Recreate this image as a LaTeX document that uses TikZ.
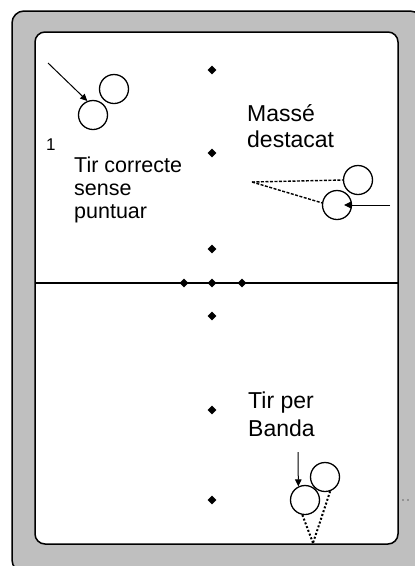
\documentclass[tikz,border=0pt]{standalone}
\usepackage{fontspec}
\setmainfont{Liberation Sans}
\usetikzlibrary{arrows.meta,shapes.geometric}
\begin{document}
\begin{tikzpicture}[x=1pt,y=-1pt,
  frameout/.style={fill=gray!100!black!50,draw=black,line width=1.5pt,rounded corners=12pt},
  framein/.style={fill=white,draw=black,line width=1.5pt,rounded corners=10pt},
  ball/.style={circle,draw=black,line width=1.3pt,minimum size=29pt,inner sep=0pt},
  spot/.style={diamond,fill=black,inner sep=0pt,minimum size=9pt},
  shot/.style={line width=1pt,-{Triangle[length=7pt,width=6.5pt]}},
  trackdash/.style={line width=1.4pt,dash pattern=on 3pt off 1.5pt},
  trackdot/.style={line width=2pt,dash pattern=on 2pt off 2pt},
  lbl/.style={anchor=base west,inner sep=0pt,align=left},
  speck/.style={circle,fill=black!60,inner sep=0pt,minimum size=1.8pt}]
\useasboundingbox (0,0) rectangle (415,566);
% frame
\draw[frameout] (12,11) rectangle (422,572);
\draw[framein] (35,32) rectangle (398,544);
% centre line
\coordinate (cl) at (35,283);
\coordinate (cr) at (398,283);
\draw[line width=1.5pt] (cl) -- (cr);
% spots
\node[spot] (s1) at (212,70) {};
\node[spot] (s2) at (212,153) {};
\node[spot] (s3) at (212,249) {};
\node[spot] (s4) at (184,283) {};
\node[spot] (s5) at (212,283) {};
\node[spot] (s6) at (242,283) {};
\node[spot] (s7) at (212,316) {};
\node[spot] (s8) at (212,410) {};
\node[spot] (s9) at (212,500) {};
% shot 1
\node[ball] (b1a) at (114,89) {};
\node[ball] (b1b) at (93,115) {};
\coordinate (a1) at (48,63);
\draw[shot] (a1) -- (b1b.112);
\node[lbl,font=\fontsize{17}{18}\selectfont] (n1) at (46,150) {1};
\node[lbl,font=\fontsize{21.5}{23}\selectfont] (t1) at (74,218) {Tir correcte\\sense\\puntuar};
% masse
\node[ball] (b2a) at (358,180) {};
\node[ball] (b2b) at (337,205) {};
\coordinate (m0) at (252,182);
\coordinate (m1) at (390,205);
\coordinate (m2) at (344,205);
\draw[trackdash] (m0) -- (b2a.west);
\draw[trackdash] (m0) -- (b2b.172);
\draw[shot] (m1) -- (m2);
\node[lbl,font=\fontsize{23}{26}\selectfont] (t2) at (247,147) {Massé\\destacat};
% banda
\node[ball] (b3a) at (325,477) {};
\node[ball] (b3b) at (305,500) {};
\coordinate (c3) at (313,543);
\coordinate (a3) at (298,452);
\draw[shot] (a3) -- (b3b.116);
\draw[trackdot] (b3b.-100) -- (c3);
\draw[trackdot] (b3a.-70) -- (c3);
\node[lbl,font=\fontsize{23}{28}\selectfont] (t3) at (248,436) {Tir per\\Banda};
% specks
\node[speck] (d1) at (403,500) {};
\node[speck] (d2) at (408,500) {};
\end{tikzpicture}
\end{document}
